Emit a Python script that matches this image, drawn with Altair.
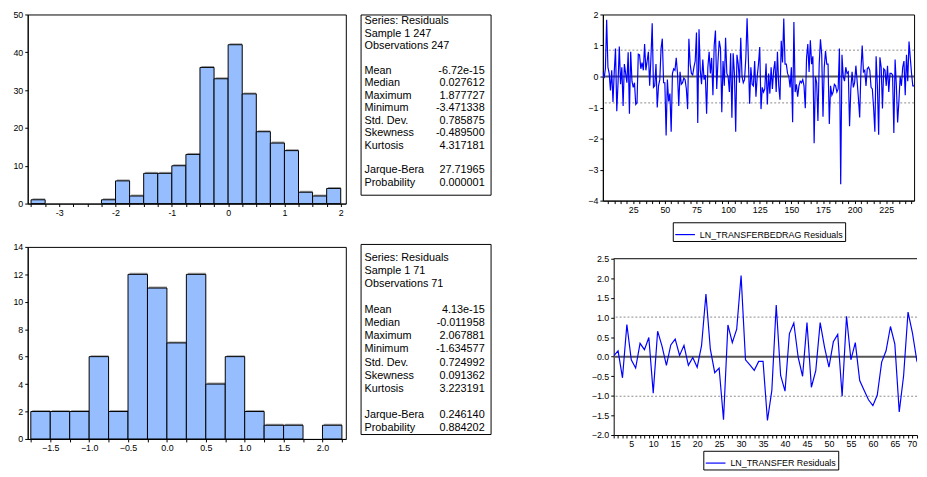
import altair as alt
import pandas as pd

FONT = "Liberation Sans"

# ---------------- data ----------------
# Histogram 1 (247 obs)
hist1_edges = [-3.5, -3.25, -3.0, -2.75, -2.5, -2.25, -2.0, -1.75, -1.5, -1.25, -1.0, -0.75,
               -0.5, -0.25, 0.0, 0.25, 0.5, 0.75, 1.0, 1.25, 1.5, 1.75, 2.0]
hist1_counts = [1, 0, 0, 0, 0, 1, 6, 2, 8, 8, 10, 13, 36, 33, 42, 29, 19, 16, 14, 3, 2, 4]

# Histogram 2 (71 obs)
hist2_edges = [-1.75, -1.5, -1.25, -1.0, -0.75, -0.5, -0.25, 0.0, 0.25, 0.5, 0.75, 1.0,
               1.25, 1.5, 1.75, 2.0, 2.25]
hist2_counts = [2, 2, 2, 6, 2, 12, 11, 7, 12, 4, 6, 2, 1, 1, 0, 1]

# Stats tables
stat_rows = [0, 1, 2, 4, 5, 6, 7, 8, 9, 10, 12, 13]
stats1_labels = ["Series: Residuals", "Sample 1 247", "Observations 247", "Mean", "Median",
                 "Maximum", "Minimum", "Std. Dev.", "Skewness", "Kurtosis", "Jarque-Bera",
                 "Probability"]
stats1_values = ["", "", "", "-6.72e-15", "0.027612", "1.877727", "-3.471338", "0.785875",
                 "-0.489500", "4.317181", "27.71965", "0.000001"]
stats2_labels = ["Series: Residuals", "Sample 1 71", "Observations 71", "Mean", "Median",
                 "Maximum", "Minimum", "Std. Dev.", "Skewness", "Kurtosis", "Jarque-Bera",
                 "Probability"]
stats2_values = ["", "", "", "4.13e-15", "-0.011958", "2.067881", "-1.634577", "0.724992",
                 "0.091362", "3.223191", "0.246140", "0.884202"]

# Residual series 1 (LN_TRANSFERBEDRAG), 247 obs
resid1 = [
    0.15, -0.05, 0.25, 1.83, 0.3, 0.1, -0.45, 0.2, -0.82, 0.15,
    0.9, -1.12, -0.2, 0.97, -0.25, 0.3, -0.95, 0.4, 0.1, -0.2,
    0.78, -1.2, 0.8, -0.15, -0.35, -0.2, -0.9, -0.85, 0.72, 0.7,
    0.25, 0.45, 0.2, 1.05, 0.2, 0.5, 0.8, -0.3, 0.6, 1.72,
    -0.35, -0.3, 0.4, -1.0, -0.3, -0.1, 0.9, 1.22, -0.2, -0.2,
    -1.9, -0.1, -0.8, -0.55, -1.78, 0.1, 0.25, 0.2, 0.6, 0.1,
    -0.95, 0.15, -0.25, -0.2, -0.05, -0.1, -0.4, -1.05, 1.22, 0.4,
    0.1, 0.05, 0.3, 0.5, 1.42, -1.5, 1.52, 0.2, -0.25, 0.55,
    -0.1, 0.05, -1.2, 0.3, 0.8, 0.1, 0.6, -0.6, 1.0, 1.48,
    -0.4, 0.5, 1.15, 0.9, -1.15, 0.5, -0.3, 1.25, 0.1, 0.0,
    -0.5, 0.75, -1.33, 0.75, 0.1, -1.78, 0.7, 0.4, -0.2, 1.25,
    0.0, -0.2, -0.1, 0.6, 1.88, 0.6, -0.88, 0.3, -0.25, -0.3,
    0.5, -0.65, 0.0, 0.4, 0.95, -1.05, -0.35, -0.5, -0.4, 0.42,
    -0.9, 0.1, -0.55, 0.3, -0.4, 0.2, 0.5, -0.5, 0.8, -0.3,
    -0.75, 1.15, 0.45, 1.87, 0.4, 0.4, 0.1, 0.0, -0.35, 0.3,
    -1.47, 1.76, -0.5, -0.25, -0.65, -0.3, -0.15, -0.2, -0.1, -0.3,
    -1.02, 0.6, 1.05, 0.15, 1.17, 0.4, 0.65, -2.15, 0.0, -0.2,
    -1.43, 0.4, 1.2, 0.7, -1.3, 0.3, 0.82, 0.4, 0.4, -1.53,
    -0.3, -0.6, -0.5, -0.25, -0.3, -0.5, -0.4, 0.9, -3.47, 0.7,
    0.0, -0.15, 0.3, 0.1, 0.15, -1.6, -0.4, 0.15, -0.35, -0.2,
    0.35, -0.15, -0.7, -1.32, 0.2, 1.0, 0.15, 0.2, -0.3, 0.25,
    0.3, 0.2, -0.35, -0.4, -1.0, -1.78, 0.65, -0.3, -1.88, 0.62,
    0.3, -1.03, 0.25, 0.2, -0.3, 0.35, -0.5, 0.1, 0.1, 0.05,
    -1.82, 0.55, -0.3, -1.48, -0.8, 0.0, -0.3, 0.3, 0.5, -0.6,
    0.7, -0.15, 1.13, 0.6, 0.1, -0.3, -0.3,
]
obs1 = list(range(1, len(resid1) + 1))
sd1 = 0.85

# Residual series 2 (LN_TRANSFER), 71 obs
resid2 = [
    0.02, 0.15, -0.54, 0.82, -0.08, -0.29, 0.34, 0.18, 0.49, -0.93,
    0.65, 0.27, -0.22, 0.30, 0.45, 0.03, 0.29, -0.22, -0.02, -0.27,
    0.28, 1.60, 0.19, -0.41, -0.29, -1.61, 0.81, 0.36, 0.70, 2.07,
    -0.08, -0.21, -0.35, -0.12, -0.12, -1.63, -0.86, 1.32, -0.48, -0.88,
    0.59, 0.86, -0.02, -0.50, 0.87, -0.78, -0.36, 0.87, 0.24, -0.27,
    0.38, 0.57, -1.01, 1.03, -0.08, 0.36, -0.61, -0.86, -1.10, -1.25,
    -0.98, -0.14, 0.15, 0.77, 0.32, -1.41, -0.48, 1.14, 0.61, -0.10,
    -0.40,
]
obs2 = list(range(1, len(resid2) + 1))
sd2 = 1.01

name1 = "LN_TRANSFERBEDRAG Residuals"
name2 = "LN_TRANSFER Residuals"

# axis tick values
hist1_ticks = [-3.5 + 0.25 * i for i in range(23)]
hist2_ticks = [-1.75 + 0.25 * i for i in range(17)]
line1_xticks = list(range(5, 247, 5))
line2_xticks = list(range(1, 71))


# ---------------- builders ----------------
def histogram(edges, counts, xdom, ydom, yticks, xticks, label_expr, w, h):
    df = pd.DataFrame({"start": edges[:-1], "end": edges[1:], "count": counts,
                       "base": [0] * len(counts)})
    base = alt.Chart(df).transform_filter("datum.count > 0")
    x = alt.X("start:Q", scale=alt.Scale(domain=xdom, nice=False, zero=False),
              axis=alt.Axis(values=xticks, labelExpr=label_expr, title=None))
    y = alt.Y("count:Q", scale=alt.Scale(domain=ydom, nice=False),
              axis=alt.Axis(values=yticks, format="d", title=None))
    shadow = base.mark_rect(fill="#a0a0a0", xOffset=1.5, yOffset=-1.5).encode(
        x=x, x2="end:Q", y=y, y2="base:Q")
    bars = base.mark_rect(fill="#96BEFF", stroke="black", strokeWidth=1).encode(
        x=x, x2="end:Q", y=y, y2="base:Q")
    return alt.layer(shadow, bars).properties(width=w, height=h)


def stats_box(labels, values, h, yrange):
    df = pd.DataFrame({"label": labels, "value": values, "row": stat_rows})
    y = alt.Y("row:Q", scale=alt.Scale(domain=[0, 13], range=yrange), axis=None)
    left = alt.Chart(df).mark_text(align="left", baseline="middle", font=FONT,
                                   fontSize=11, color="black").encode(
        x=alt.value(4), y=y, text="label:N")
    right = alt.Chart(df).mark_text(align="right", baseline="middle", font=FONT,
                                    fontSize=11, color="black").encode(
        x=alt.value(126), y=y, text="value:N")
    return alt.layer(left, right).properties(width=132, height=h)


def resid_chart(obs, vals, name, xdom, ydom, xticks, xlab, yticks, yfmt, sd, w, h,
                lx, ly, frame_top=None):
    df = pd.DataFrame({"obs": obs, "resid": vals, "series": name})
    ysc = alt.Scale(domain=ydom, nice=False, zero=False)
    yax = alt.Axis(values=yticks, format=yfmt, title=None)
    x = alt.X("obs:Q", scale=alt.Scale(domain=xdom, nice=False, zero=False),
              axis=alt.Axis(values=xticks, labelExpr=xlab, title=None,
                            labelAlign={"expr": "datum.value >= 70 && datum.value < 71 ? 'right' : 'center'"}))
    dashed = alt.Chart(pd.DataFrame({"resid": [sd, -sd]})).mark_rule(
        color="#8a8a8a", strokeWidth=1, strokeDash=[2, 2]).encode(
        y=alt.Y("resid:Q", scale=ysc, axis=yax))
    zero = alt.Chart(pd.DataFrame({"resid": [0.0]})).mark_rule(
        color="#555555", strokeWidth=2).encode(y=alt.Y("resid:Q", scale=ysc, axis=yax))
    line = alt.Chart(df).mark_line(strokeWidth=1.2, clip=True).encode(
        x=x,
        y=alt.Y("resid:Q", scale=ysc, axis=yax),
        color=alt.Color("series:N", scale=alt.Scale(range=["#0000FF"]),
                        legend=alt.Legend(orient="none", legendX=lx, legendY=ly,
                                          title=None, symbolType="stroke",
                                          symbolSize=400, symbolStrokeWidth=1.2,
                                          strokeColor="black", fillColor="white",
                                          padding=1.5, labelFont=FONT, labelFontSize=9,
                                          labelColor="black", labelOffset=4)),
    )
    layers = [dashed, zero, line]
    props = dict(width=w, height=h)
    if frame_top is not None:
        top = alt.Chart(pd.DataFrame({"resid": [frame_top]})).mark_rule(
            color="black", strokeWidth=1).encode(y=alt.Y("resid:Q", scale=ysc, axis=yax))
        layers.append(top)
        props["view"] = alt.ViewBackground(stroke="transparent")
    return alt.layer(*layers).properties(**props)


def spacer(w):
    return alt.Chart(pd.DataFrame({"a": [0]})).mark_point(opacity=0, size=0).encode(
        x=alt.X("a:Q", axis=None), y=alt.Y("a:Q", axis=None)
    ).properties(width=w, height=1, view=alt.ViewBackground(stroke="transparent"))


hist1 = histogram(hist1_edges, hist1_counts, [-3.56, 2.09], [0, 50],
                  [0, 10, 20, 30, 40, 50], hist1_ticks,
                  "datum.value % 1 == 0 ? '' + datum.value : ''", 323, 192)
hist2 = histogram(hist2_edges, hist2_counts, [-1.79, 2.30], [0, 14],
                  [0, 2, 4, 6, 8, 10, 12, 14], hist2_ticks,
                  "datum.value % 0.5 == 0 ? format(datum.value, '.1f') : ''", 323, 195)

box1 = stats_box(stats1_labels, stats1_values, 183, [7, 171])
box2 = stats_box(stats2_labels, stats2_values, 193, [14, 187])

line1 = resid_chart(obs1, resid1, name1, [1, 247], [-4, 2], line1_xticks,
                    "datum.value % 25 == 0 ? datum.label : ''", [-4, -3, -2, -1, 0, 1, 2], "d",
                    sd1, 316, 189, 71, 211)
line2 = resid_chart(obs2, resid2, name2, [1, 70.05], [-2, 2.5], line2_xticks,
                    "datum.value % 5 == 0 ? datum.label : ''",
                    [-2, -1.5, -1, -0.5, 0, 0.5, 1, 1.5, 2, 2.5], ".1f",
                    sd2, 308, 179, 91, 195, frame_top=2.5)

col1 = alt.vconcat(hist1, hist2, spacing=24)
col2 = alt.vconcat(box1, box2, spacing=48)
col3 = alt.vconcat(
    alt.hconcat(spacer(1), line1, spacing=0).resolve_scale(color="independent"),
    alt.hconcat(spacer(4), line2, spacing=0).resolve_scale(color="independent"),
    spacing=12,
).resolve_scale(color="independent")

chart = alt.hconcat(
    alt.hconcat(col1, col2, spacing=13), col3, spacing=94
).resolve_scale(color="independent").properties(
    padding={"left": 4, "top": -2, "right": 0, "bottom": 0}
).configure_view(stroke="black", strokeWidth=1).configure_axis(
    labelFont=FONT, labelFontSize=9, labelColor="black", domainColor="black",
    tickColor="black", tickSize=3, labelPadding=2, grid=False, labelOverlap=False,
    labelFlush=False, domainWidth=1, tickWidth=1
).configure_legend(cornerRadius=0)

chart.save("out.html", embed_options={"renderer": "svg", "actions": False})
